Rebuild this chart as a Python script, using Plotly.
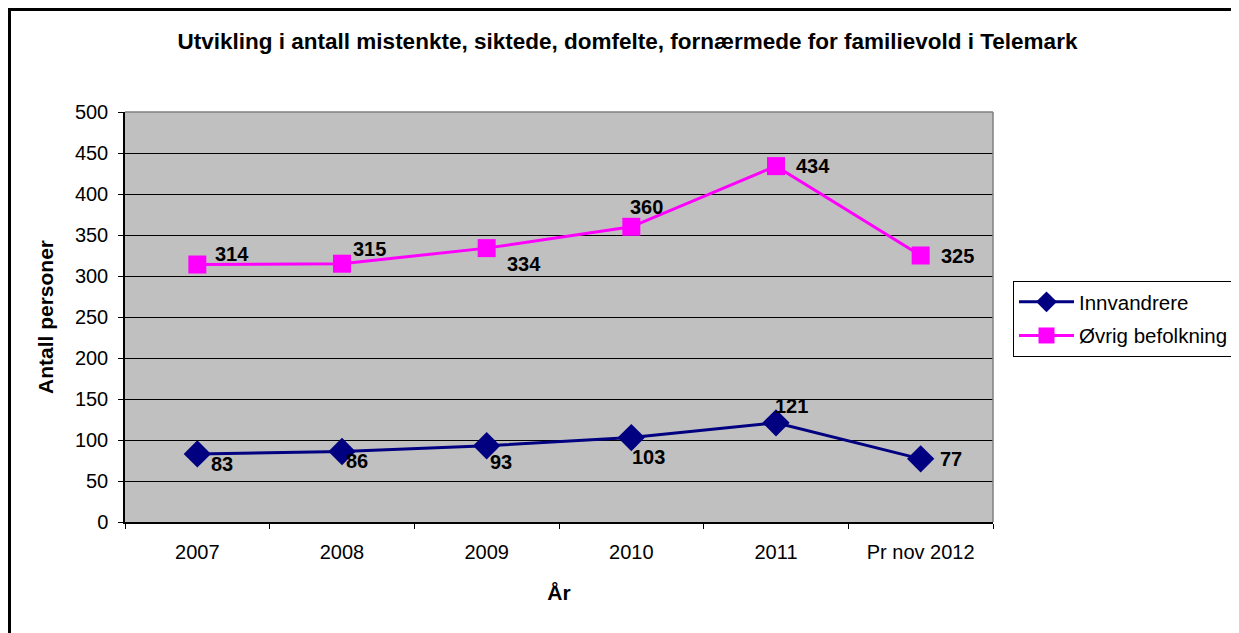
import plotly.graph_objects as go

categories = ["2007", "2008", "2009", "2010", "2011", "Pr nov 2012"]
innvandrere = [83, 86, 93, 103, 121, 77]
ovrig = [314, 315, 334, 360, 434, 325]
y_ticks = [0, 50, 100, 150, 200, 250, 300, 350, 400, 450, 500]

# label offsets (pixels) relative to marker
innv_shift = [(12, -10), (2, -10), (1, -16), (-1, -19), (-3, 17), (17, 0)]
ovr_shift = [(16, 11), (9, 15), (18, -16), (-3, 20), (18, 0), (18, 0)]

FONT = "Liberation Sans, Arial, sans-serif"

W, H = 1239, 633
OFF = 8  # page body margin
L, R, T, B = 125 - OFF, 993 - OFF, 112 - OFF, 522 - OFF


def px(x):
    return (x - OFF - L) / (R - L)


def py(y):
    return (B - (y - OFF)) / (B - T)


fig = go.Figure()
fig.add_trace(go.Scatter(
    x=categories, y=innvandrere, name="Innvandrere", mode="lines+markers",
    line=dict(color="#000080", width=3),
    marker=dict(symbol="diamond", size=21, color="#000080"),
    legendgroup="a",
))
fig.add_trace(go.Scatter(
    x=categories, y=ovrig, name="Øvrig befolkning", mode="lines+markers",
    line=dict(color="#FF00FF", width=3),
    marker=dict(symbol="square", size=18, color="#FF00FF"),
    legendgroup="b",
))

annotations = []
for series, shifts in ((innvandrere, innv_shift), (ovrig, ovr_shift)):
    for i, (val, (dx, dy)) in enumerate(zip(series, shifts)):
        annotations.append(dict(x=i, y=val, xref="x", yref="y", text=str(val), showarrow=False,
                                xanchor="left", yanchor="middle", xshift=dx, yshift=dy,
                                font=dict(family=FONT, size=20, color="black", weight="bold")))

shapes = [
    # plot-area top/right gray border
    dict(type="line", xref="paper", yref="paper", x0=0, x1=1, y0=1, y1=1,
         line=dict(color="#808080", width=1.5), layer="above"),
    dict(type="line", xref="paper", yref="paper", x0=1, x1=1, y0=0, y1=1,
         line=dict(color="#808080", width=1.5), layer="above"),
    # outer chart border (top and left)
    dict(type="line", xref="paper", yref="paper", x0=px(8), x1=px(1260), y0=py(9.5), y1=py(9.5),
         line=dict(color="black", width=3), layer="above"),
    dict(type="line", xref="paper", yref="paper", x0=px(9.5), x1=px(9.5), y0=py(8), y1=py(660),
         line=dict(color="black", width=3), layer="above"),
]

fig.update_layout(
    width=W, height=H,
    margin=dict(l=L, r=W - R, t=T, b=H - B, pad=0),
    paper_bgcolor="white",
    plot_bgcolor="#C0C0C0",
    font=dict(family=FONT, size=20, color="black"),
    title=dict(text="Utvikling i antall mistenkte, siktede, domfelte, fornærmede for familievold i Telemark",
               x=(627.5 - OFF) / W, xanchor="center", y=1 - (41 - OFF) / H, yanchor="middle",
               font=dict(family=FONT, size=22.5, color="black", weight="bold")),
    xaxis=dict(
        type="category", range=[-0.5, 5.5], tickson="boundaries",
        ticks="outside", ticklen=5, tickcolor="black", tickwidth=1,
        showline=True, linecolor="black", linewidth=1.5,
        showgrid=False, ticklabelstandoff=11,
        tickfont=dict(size=20),
        title=dict(text="År", font=dict(size=21, weight="bold"), standoff=24),
    ),
    yaxis=dict(
        range=[0, 500], tickvals=y_ticks, ticks="outside", ticklen=5,
        tickcolor="black", tickwidth=1,
        showline=True, linecolor="black", linewidth=1.5,
        showgrid=True, gridcolor="black", gridwidth=1, zeroline=False,
        ticklabelstandoff=6, tickfont=dict(size=20),
        title=dict(text="Antall personer", font=dict(size=21, weight="bold"), standoff=16),
    ),
    legend=dict(
        x=px(1013), y=py(281), xanchor="left", yanchor="top",
        bgcolor="white", bordercolor="black", borderwidth=1,
        font=dict(size=20.5), tracegroupgap=4, itemwidth=55,
    ),
    annotations=annotations,
    shapes=shapes,
    showlegend=True,
)

fig.write_html("out.html")
